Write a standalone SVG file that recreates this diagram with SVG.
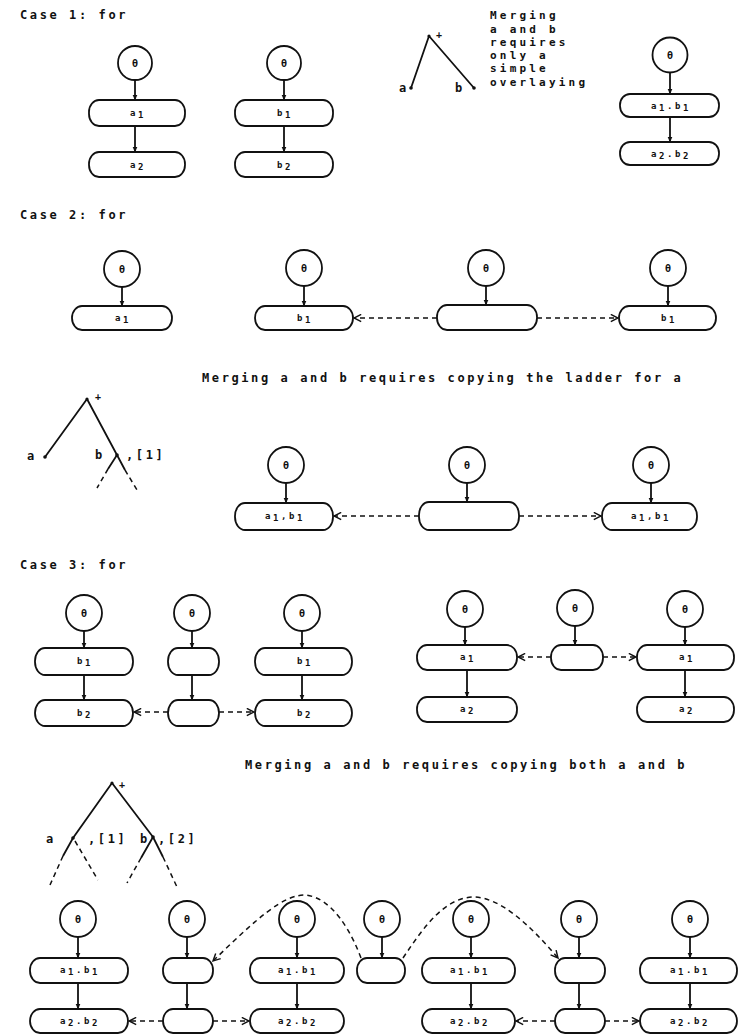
<svg xmlns="http://www.w3.org/2000/svg" width="744" height="1036" viewBox="0 0 744 1036">
<defs>
<style>
.t{font-family:"DejaVu Sans Mono","Liberation Mono",monospace;font-weight:bold;font-size:12px;letter-spacing:2.6px;fill:#111}
.tb{font-family:"DejaVu Sans Mono","Liberation Mono",monospace;font-weight:bold;font-size:11px;letter-spacing:3.2px;fill:#111}
.sm{font-family:"DejaVu Sans Mono","Liberation Mono",monospace;font-weight:bold;font-size:10px;fill:#111}
.lbl{font-family:"DejaVu Sans Mono","Liberation Mono",monospace;font-weight:bold;font-size:9px;letter-spacing:2.6px;fill:#111;text-anchor:middle}
.th{font-family:"DejaVu Sans Mono","Liberation Mono",monospace;font-weight:bold;font-size:10px;fill:#111;text-anchor:middle}
.c{fill:#fff;stroke:#111;stroke-width:1.8}
.b{fill:#fff;stroke:#111;stroke-width:1.8}
.s{fill:none;stroke:#111;stroke-width:1.8}
.d{fill:none;stroke:#111;stroke-width:1.5;stroke-dasharray:5 4}
.v{marker-end:url(#tri)}
.h{marker-end:url(#chev)}
</style>
<marker id="tri" viewBox="0 0 6 6" refX="5.5" refY="3" markerWidth="6" markerHeight="6" markerUnits="userSpaceOnUse" orient="auto"><path d="M0,0.5 L6,3 L0,5.5 z" fill="#111"/></marker>
<marker id="chev" viewBox="0 0 10 10" refX="9" refY="5" markerWidth="9" markerHeight="9" markerUnits="userSpaceOnUse" orient="auto"><path d="M1,1 L9,5 L1,9" fill="none" stroke="#111" stroke-width="1.6"/></marker>
</defs>
<rect width="744" height="1036" fill="#fff"/>

<!-- Headings and captions -->
<g id="texts">
<text class="t" x="20" y="19">Case 1: for</text>
<text class="tb" x="490" y="19">Merging</text>
<text class="tb" x="490" y="33">a and b</text>
<text class="tb" x="490" y="46">requires</text>
<text class="tb" x="490" y="59">only a</text>
<text class="tb" x="490" y="72">simple</text>
<text class="tb" x="490" y="86">overlaying</text>
<text class="t" x="20" y="219">Case 2: for</text>
<text class="t" x="202" y="382">Merging a and b requires copying the ladder for a</text>
<text class="t" x="20" y="569">Case 3: for</text>
<text class="t" x="245" y="769">Merging a and b requires copying both a and b</text>
</g>

<!-- Trees -->
<g id="tree1">
<path class="s" d="M429,36 L411,88 M429,36 L474,88"/>
<circle cx="429" cy="36" r="1.6" fill="#111"/><circle cx="411" cy="88" r="1.8" fill="#111"/><circle cx="474" cy="88" r="1.8" fill="#111"/>
<text class="sm" x="436" y="38">+</text>
<text class="t" x="399" y="92">a</text>
<text class="t" x="455" y="92">b</text>
</g>
<g id="tree2">
<path class="s" d="M87,399 L45,457 M87,399 L117,455 L108,469 M117,455 L125,470"/>
<path class="d" d="M108,469 L97,488 M125,470 L137,490"/>
<circle cx="87" cy="399" r="1.6" fill="#111"/><circle cx="45" cy="457" r="1.8" fill="#111"/><circle cx="117" cy="455" r="1.8" fill="#111"/>
<text class="sm" x="95" y="400">+</text>
<text class="t" x="27" y="460">a</text>
<text class="t" x="95" y="459">b</text>
<text class="t" x="126" y="459">,[1]</text>
</g>
<g id="tree3">
<path class="s" d="M112,783 L73,838 L63,856 M112,783 L153,837 L141,858 M153,837 L163,857"/>
<path class="d" d="M63,856 L50,885 M75,841 L98,880 M141,858 L127,883 M163,857 L177,887"/>
<circle cx="112" cy="783" r="1.6" fill="#111"/><circle cx="73" cy="838" r="1.8" fill="#111"/><circle cx="153" cy="837" r="1.8" fill="#111"/>
<text class="sm" x="119" y="788">+</text>
<text class="t" x="46" y="843">a</text>
<text class="t" x="88" y="843">,[1]</text>
<text class="t" x="140" y="843">b</text>
<text class="t" x="158" y="843">,[2]</text>
</g>

<!-- Case 1 nodes -->
<g id="c1a">
<circle class="c" cx="135" cy="63" r="17"/><text class="th" x="135" y="67">θ</text>
<rect class="b" x="89" y="100" width="96" height="26" rx="10" ry="12"/><text class="lbl" x="138" y="116">a<tspan dy="1.5">1</tspan></text>
<rect class="b" x="89" y="152" width="96" height="25" rx="10" ry="12"/><text class="lbl" x="138" y="168">a<tspan dy="1.5">2</tspan></text>
</g>
<g id="c1b">
<circle class="c" cx="284" cy="63" r="17"/><text class="th" x="284" y="67">θ</text>
<rect class="b" x="235" y="100" width="98" height="26" rx="10" ry="12"/><text class="lbl" x="285" y="116">b<tspan dy="1.5">1</tspan></text>
<rect class="b" x="235" y="152" width="98" height="25" rx="10" ry="12"/><text class="lbl" x="285" y="168">b<tspan dy="1.5">2</tspan></text>
</g>
<g id="c1m">
<circle class="c" cx="670" cy="55" r="17.5"/><text class="th" x="670" y="59">θ</text>
<rect class="b" x="620" y="94" width="99" height="23" rx="10" ry="11"/><text class="lbl" x="671" y="109">a<tspan dy="1.5">1</tspan><tspan dy="-1.5">.b</tspan><tspan dy="1.5">1</tspan></text>
<rect class="b" x="620" y="142" width="99" height="23" rx="10" ry="11"/><text class="lbl" x="671" y="157">a<tspan dy="1.5">2</tspan><tspan dy="-1.5">.b</tspan><tspan dy="1.5">2</tspan></text>
</g>

<!-- Case 2 nodes -->
<g id="c2a">
<circle class="c" cx="122" cy="269" r="18"/><text class="th" x="122" y="273">θ</text>
<rect class="b" x="72" y="306" width="100" height="24" rx="10" ry="12"/><text class="lbl" x="123" y="321">a<tspan dy="1.5">1</tspan></text>
</g>
<g id="c2b">
<circle class="c" cx="304" cy="268" r="18"/><text class="th" x="304" y="272">θ</text>
<rect class="b" x="255" y="306" width="98" height="24" rx="10" ry="12"/><text class="lbl" x="305" y="321">b<tspan dy="1.5">1</tspan></text>
</g>
<g id="c2m">
<circle class="c" cx="486" cy="268" r="18"/><text class="th" x="486" y="272">θ</text>
<rect class="b" x="437" y="305" width="100" height="25" rx="10" ry="12"/>
</g>
<g id="c2r">
<circle class="c" cx="668" cy="268" r="18"/><text class="th" x="668" y="272">θ</text>
<rect class="b" x="619" y="306" width="97" height="24" rx="10" ry="12"/><text class="lbl" x="669" y="321">b<tspan dy="1.5">1</tspan></text>
</g>
<g id="c2ma">
<circle class="c" cx="286" cy="465" r="18"/><text class="th" x="286" y="469">θ</text>
<rect class="b" x="235" y="503" width="98" height="27" rx="10" ry="13"/><text class="lbl" x="285" y="519">a<tspan dy="1.5">1</tspan><tspan dy="-1.5">,b</tspan><tspan dy="1.5">1</tspan></text>
</g>
<g id="c2mm">
<circle class="c" cx="467" cy="465" r="18"/><text class="th" x="467" y="469">θ</text>
<rect class="b" x="419" y="502" width="100" height="28" rx="10" ry="13"/>
</g>
<g id="c2mr">
<circle class="c" cx="651" cy="465" r="18"/><text class="th" x="651" y="469">θ</text>
<rect class="b" x="602" y="503" width="95" height="27" rx="10" ry="13"/><text class="lbl" x="651" y="519">a<tspan dy="1.5">1</tspan><tspan dy="-1.5">,b</tspan><tspan dy="1.5">1</tspan></text>
</g>

<!-- Case 3 nodes -->
<g id="c3l1">
<circle class="c" cx="84" cy="613" r="18"/><text class="th" x="84" y="617">θ</text>
<rect class="b" x="35" y="648" width="98" height="27" rx="10" ry="13"/><text class="lbl" x="85" y="664">b<tspan dy="1.5">1</tspan></text>
<rect class="b" x="35" y="700" width="98" height="26" rx="10" ry="13"/><text class="lbl" x="85" y="716">b<tspan dy="1.5">2</tspan></text>
</g>
<g id="c3l2">
<circle class="c" cx="192" cy="613" r="18"/><text class="th" x="192" y="617">θ</text>
<rect class="b" x="168" y="648" width="51" height="27" rx="10" ry="13"/>
<rect class="b" x="168" y="700" width="51" height="26" rx="10" ry="13"/>
</g>
<g id="c3l3">
<circle class="c" cx="302" cy="613" r="18"/><text class="th" x="302" y="617">θ</text>
<rect class="b" x="255" y="648" width="97" height="27" rx="10" ry="13"/><text class="lbl" x="305" y="664">b<tspan dy="1.5">1</tspan></text>
<rect class="b" x="255" y="700" width="97" height="26" rx="10" ry="13"/><text class="lbl" x="305" y="716">b<tspan dy="1.5">2</tspan></text>
</g>
<g id="c3l4">
<circle class="c" cx="465" cy="609" r="18"/><text class="th" x="465" y="613">θ</text>
<rect class="b" x="417" y="645" width="100" height="25" rx="10" ry="12"/><text class="lbl" x="468" y="660">a<tspan dy="1.5">1</tspan></text>
<rect class="b" x="417" y="697" width="100" height="25" rx="10" ry="12"/><text class="lbl" x="468" y="712">a<tspan dy="1.5">2</tspan></text>
</g>
<g id="c3l5">
<circle class="c" cx="575" cy="608" r="18"/><text class="th" x="575" y="612">θ</text>
<rect class="b" x="551" y="645" width="52" height="25" rx="10" ry="12"/>
</g>
<g id="c3l6">
<circle class="c" cx="685" cy="609" r="18"/><text class="th" x="685" y="613">θ</text>
<rect class="b" x="637" y="645" width="97" height="25" rx="10" ry="12"/><text class="lbl" x="687" y="660">a<tspan dy="1.5">1</tspan></text>
<rect class="b" x="637" y="697" width="97" height="25" rx="10" ry="12"/><text class="lbl" x="687" y="712">a<tspan dy="1.5">2</tspan></text>
</g>

<!-- Case 3 merged nodes -->
<g id="m1">
<circle class="c" cx="78" cy="919" r="18"/><text class="th" x="78" y="923">θ</text>
<rect class="b" x="30" y="958" width="98" height="25" rx="10" ry="12"/><text class="lbl" x="80" y="973">a<tspan dy="1.5">1</tspan><tspan dy="-1.5">.b</tspan><tspan dy="1.5">1</tspan></text>
<rect class="b" x="30" y="1009" width="98" height="24" rx="10" ry="12"/><text class="lbl" x="80" y="1024">a<tspan dy="1.5">2</tspan><tspan dy="-1.5">.b</tspan><tspan dy="1.5">2</tspan></text>
</g>
<g id="m2">
<circle class="c" cx="187" cy="919" r="18"/><text class="th" x="187" y="923">θ</text>
<rect class="b" x="163" y="958" width="50" height="25" rx="10" ry="12"/>
<rect class="b" x="163" y="1009" width="50" height="24" rx="10" ry="12"/>
</g>
<g id="m3">
<circle class="c" cx="297" cy="919" r="18"/><text class="th" x="297" y="923">θ</text>
<rect class="b" x="250" y="958" width="94" height="25" rx="10" ry="12"/><text class="lbl" x="298" y="973">a<tspan dy="1.5">1</tspan><tspan dy="-1.5">.b</tspan><tspan dy="1.5">1</tspan></text>
<rect class="b" x="250" y="1009" width="94" height="24" rx="10" ry="12"/><text class="lbl" x="298" y="1024">a<tspan dy="1.5">2</tspan><tspan dy="-1.5">.b</tspan><tspan dy="1.5">2</tspan></text>
</g>
<g id="m4">
<circle class="c" cx="382" cy="919" r="18"/><text class="th" x="382" y="923">θ</text>
<rect class="b" x="357" y="958" width="48" height="25" rx="10" ry="12"/>
</g>
<g id="m5">
<circle class="c" cx="471" cy="919" r="18"/><text class="th" x="471" y="923">θ</text>
<rect class="b" x="422" y="958" width="93" height="25" rx="10" ry="12"/><text class="lbl" x="470" y="973">a<tspan dy="1.5">1</tspan><tspan dy="-1.5">.b</tspan><tspan dy="1.5">1</tspan></text>
<rect class="b" x="422" y="1009" width="93" height="24" rx="10" ry="12"/><text class="lbl" x="470" y="1024">a<tspan dy="1.5">2</tspan><tspan dy="-1.5">.b</tspan><tspan dy="1.5">2</tspan></text>
</g>
<g id="m6">
<circle class="c" cx="579" cy="919" r="18"/><text class="th" x="579" y="923">θ</text>
<rect class="b" x="555" y="958" width="50" height="25" rx="10" ry="12"/>
<rect class="b" x="555" y="1009" width="50" height="24" rx="10" ry="12"/>
</g>
<g id="m7">
<circle class="c" cx="690" cy="919" r="18"/><text class="th" x="690" y="923">θ</text>
<rect class="b" x="640" y="958" width="97" height="25" rx="10" ry="12"/><text class="lbl" x="690" y="973">a<tspan dy="1.5">1</tspan><tspan dy="-1.5">.b</tspan><tspan dy="1.5">1</tspan></text>
<rect class="b" x="640" y="1009" width="97" height="24" rx="10" ry="12"/><text class="lbl" x="690" y="1024">a<tspan dy="1.5">2</tspan><tspan dy="-1.5">.b</tspan><tspan dy="1.5">2</tspan></text>
</g>

<!-- Connectors -->
<g id="connectors">
<!-- case 1 -->
<path class="s v" d="M135,80 L135,100"/><path class="s v" d="M135,126 L135,152"/>
<path class="s v" d="M284,80 L284,100"/><path class="s v" d="M284,126 L284,152"/>
<path class="s v" d="M670,72.5 L670,94"/><path class="s v" d="M670,117 L670,142"/>
<!-- case 2 -->
<path class="s v" d="M122,287 L122,306"/>
<path class="s v" d="M304,286 L304,306"/>
<path class="s v" d="M486,286 L486,305"/>
<path class="s v" d="M668,286 L668,306"/>
<path class="d h" d="M437,318 L354,318"/>
<path class="d h" d="M537,318 L618,318"/>
<path class="s v" d="M286,483 L286,503"/>
<path class="s v" d="M467,483 L467,502"/>
<path class="s v" d="M651,483 L651,503"/>
<path class="d h" d="M419,516 L334,516"/>
<path class="d h" d="M519,516 L601,516"/>
<!-- case 3 -->
<path class="s v" d="M84,631 L84,648"/><path class="s v" d="M84,675 L84,700"/>
<path class="s v" d="M192,631 L192,648"/><path class="s v" d="M192,675 L192,700"/>
<path class="s v" d="M302,631 L302,648"/><path class="s v" d="M302,675 L302,700"/>
<path class="d h" d="M168,712 L134,712"/>
<path class="d h" d="M219,712 L254,712"/>
<path class="s v" d="M465,627 L465,645"/><path class="s v" d="M467,670 L467,697"/>
<path class="s v" d="M575,626 L575,645"/>
<path class="s v" d="M685,627 L685,645"/><path class="s v" d="M685,670 L685,697"/>
<path class="d h" d="M551,657 L518,657"/>
<path class="d h" d="M603,657 L636,657"/>
<!-- merged case 3 -->
<path class="s v" d="M78,937 L78,958"/><path class="s v" d="M78,983 L78,1009"/>
<path class="s v" d="M187,937 L187,958"/><path class="s v" d="M187,983 L187,1009"/>
<path class="s v" d="M297,937 L297,958"/><path class="s v" d="M297,983 L297,1009"/>
<path class="s v" d="M382,937 L382,958"/>
<path class="s v" d="M471,937 L471,958"/><path class="s v" d="M471,983 L471,1009"/>
<path class="s v" d="M579,937 L579,958"/><path class="s v" d="M579,983 L579,1009"/>
<path class="s v" d="M690,937 L690,958"/><path class="s v" d="M690,983 L690,1009"/>
<path class="d h" d="M163,1021 L129,1021"/>
<path class="d h" d="M213,1021 L249,1021"/>
<path class="d h" d="M555,1021 L516,1021"/>
<path class="d h" d="M605,1021 L639,1021"/>
<path class="d h" d="M361,958 C345,915 320,890 297,896 C275,900 240,935 213,961"/>
<path class="d h" d="M403,958 C425,925 445,898 473,897 C500,897 530,925 558,958"/>
</g>
</svg>
